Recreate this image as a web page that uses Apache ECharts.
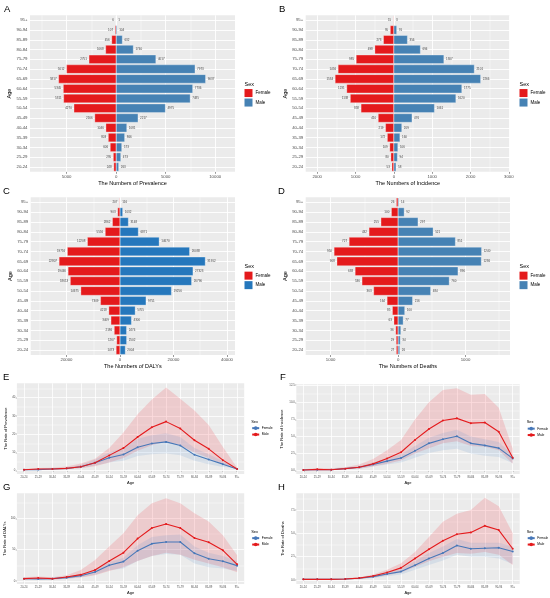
<!DOCTYPE html>
<html lang="en">
<head>
<meta charset="UTF-8">
<script src="https://cdn.jsdelivr.net/npm/echarts@6/dist/echarts.min.js"></script>
<title>Numbers and rates by age and sex</title>
<style>html, body { margin: 0; background: #fff; }</style>
</head>
<body>
<div id="main" style="width:550px;height:598px;"></div>
<script type="text/javascript">
// age groups, youngest first (ECharts puts the first category at the bottom)
var ages = ['20-24', '25-29', '30-34', '35-39', '40-44', '45-49', '50-54', '55-59',
            '60-64', '65-69', '70-74', '75-79', '80-84', '85-89', '90-94', '95+'];

// A - numbers of prevalence
var prevFemale = [248, 295, 606, 803, 1046, 2166, 4270, 5311, 5345, 5817, 5012, 2751, 1068, 456, 107, 6];
var prevMale   = [263, 473, 573, 866, 1081, 2217, 4975, 7485, 7736, 9037, 7973, 4017, 1740, 632, 104, 1];
// B - numbers of incidence
var incFemale = [53, 80, 109, 172, 219, 410, 858, 1138, 1231, 1534, 1456, 985, 498, 273, 95, 15];
var incMale   = [58, 94, 106, 160, 209, 476, 1061, 1620, 1775, 2266, 2101, 1307, 694, 356, 76, 3];
// C - numbers of DALYs
var dalyFemale = [1473, 1267, 2186, 3409, 4218, 7309, 14675, 18613, 19446, 22807, 19716, 12208, 5556, 2862, 903, 207];
var dalyMale   = [2004, 2502, 2474, 4300, 5705, 9751, 19256, 26796, 27323, 31912, 26038, 14670, 6871, 3148, 1032, 116];
// D - numbers of deaths
var deathFemale = [27, 29, 36, 63, 85, 164, 363, 536, 638, 908, 950, 727, 432, 255, 100, 26];
var deathMale   = [26, 34, 42, 77, 100, 216, 484, 760, 890, 1236, 1240, 851, 521, 297, 92, 14];

// E - rate of prevalence (mean, lower, upper)
var prevRateF  = [0.5, 0.6, 0.9, 1.2, 2.2, 4.4, 7.1, 8.9, 12.9, 14.9, 15.8, 13.8, 8.7, 6.2, 3.6, 0.9];
var prevRateFL = [0.3, 0.4, 0.6, 0.8, 1.5, 2.8, 4.5, 5.5, 8, 9, 9.5, 8.5, 5.5, 3.6, 2.1, 0.6];
var prevRateFU = [0.7, 0.9, 1.2, 1.7, 3.2, 6.2, 10, 12.5, 17.5, 19.5, 20.5, 18.5, 12.5, 9, 5.2, 1.3];
var prevRateM  = [0.5, 0.9, 0.9, 1.3, 2.2, 4.4, 8.4, 12.4, 18.5, 23.8, 26.9, 23.1, 16.7, 12.0, 5.8, 0.9];
var prevRateML = [0.3, 0.5, 0.5, 0.8, 1.3, 2.5, 4.5, 7, 11, 14, 16, 14, 10, 7, 3.5, 0.5];
var prevRateMU = [1.0, 1.5, 1.6, 2.3, 4.0, 6.5, 12.5, 21, 31, 39, 45.6, 39.5, 33, 25, 13, 1.6];
// F - rate of incidence
var incRateF  = [0.1, 0.15, 0.15, 0.3, 0.5, 0.9, 1.4, 1.85, 2.9, 4.0, 4.6, 5.05, 4.0, 3.7, 3.3, 1.8];
var incRateFL = [0.05, 0.1, 0.1, 0.2, 0.3, 0.6, 0.9, 1.2, 1.9, 2.6, 3.0, 3.2, 2.5, 2.2, 2.0, 1.1];
var incRateFU = [0.15, 0.25, 0.25, 0.4, 0.7, 1.2, 1.8, 2.4, 3.6, 4.8, 5.5, 6.0, 5.0, 4.6, 4.2, 2.3];
var incRateM  = [0.1, 0.2, 0.15, 0.3, 0.5, 1.0, 1.8, 2.7, 4.5, 6.1, 7.35, 7.65, 6.95, 7.05, 5.7, 1.9];
var incRateML = [0.05, 0.1, 0.1, 0.2, 0.3, 0.6, 1.0, 1.5, 2.5, 3.3, 4.0, 4.3, 3.6, 3.5, 3.0, 1.0];
var incRateMU = [0.2, 0.35, 0.35, 0.5, 0.9, 1.7, 3.0, 4.5, 7.5, 10, 11.8, 12.05, 11.1, 11.2, 9.2, 3.2];
// G - rate of DALYs
var dalyRateF  = [3.7, 3.2, 3.7, 5.3, 8.5, 14.4, 25, 30.9, 48.4, 59.6, 62.2, 62.2, 44.1, 35.6, 31.4, 24.5];
var dalyRateFL = [2.5, 2, 2.5, 3.5, 6, 10, 17, 20, 32, 40, 43, 42, 28, 22, 20, 16];
var dalyRateFU = [5, 4.5, 5, 7, 11, 18, 30, 37, 57, 70, 73, 74, 55, 45, 40, 32];
var dalyRateM  = [3.7, 4.8, 3.7, 6.4, 10.1, 17.6, 31.9, 45.2, 67.6, 84.6, 91.0, 84.6, 68.6, 61.7, 48.9, 26.6];
var dalyRateML = [2, 2.5, 2, 3.5, 5.5, 9, 16, 22, 32, 40, 45, 42, 34, 28, 22, 14];
var dalyRateMU = [6, 7, 6, 9, 17.6, 33.5, 55, 76, 105, 124, 132, 124, 108, 95, 73, 41];
// H - rate of deaths
var deathRateF  = [0.07, 0.07, 0.07, 0.1, 0.18, 0.36, 0.65, 0.9, 1.57, 2.3, 2.9, 3.7, 3.35, 3.4, 3.45, 3.05];
var deathRateFL = [0.04, 0.04, 0.04, 0.06, 0.1, 0.22, 0.4, 0.6, 1.1, 1.6, 2.1, 2.7, 2.5, 2.5, 2.3, 1.7];
var deathRateFU = [0.1, 0.1, 0.1, 0.14, 0.25, 0.5, 0.85, 1.2, 2.0, 2.9, 3.6, 4.4, 4.0, 4.0, 4.0, 3.6];
var deathRateM  = [0.07, 0.07, 0.07, 0.1, 0.2, 0.43, 0.8, 1.3, 2.3, 3.3, 4.2, 4.9, 5.1, 5.8, 5.35, 3.35];
var deathRateML = [0.04, 0.04, 0.04, 0.06, 0.12, 0.25, 0.5, 0.8, 1.4, 2.0, 2.5, 2.9, 2.8, 3.0, 2.7, 1.6];
var deathRateMU = [0.12, 0.12, 0.12, 0.18, 0.3, 0.6, 1.1, 1.8, 3.0, 4.6, 6.25, 7.1, 7.5, 8.8, 7.9, 5.0];

var RED = '#E41A1C';
var GREY = '#4D4D4D';

var opt = {
    animation: false,
    backgroundColor: '#fff',
    textStyle: { fontFamily: 'Liberation Sans, Arial, sans-serif' },
    title: [], grid: [], xAxis: [], yAxis: [], legend: [], series: []
};

function text(str, left, top, size) {
    opt.title.push({
        text: str, left: left, top: top, padding: 0,
        textStyle: { fontSize: size, fontWeight: 'normal', color: '#000' }
    });
}

// white panel grid lines, drawn under the marks
function marks(list, key, width) {
    return list.map(function (v) {
        var d = { lineStyle: { width: width } };
        d[key] = v;
        return d;
    });
}
function gridLines(data) {
    return {
        silent: true, symbol: ['none', 'none'], label: { show: false }, z: 1,
        animation: false, emphasis: { disabled: true },
        lineStyle: { color: '#fff', type: 'solid', width: 0.9 },
        data: data
    };
}

function pyramid(id, box, range, major, minor, female, male, maleColor, xName) {
    var gi = opt.grid.length;
    opt.grid.push({ left: box[0], top: box[1], width: box[2], height: box[3],
        show: true, backgroundColor: '#EBEBEB', borderWidth: 0 });
    opt.xAxis.push({
        gridIndex: gi, type: 'value', min: range[0], max: range[1],
        name: xName, nameLocation: 'middle', nameGap: 8.2,
        nameTextStyle: { fontSize: 5.5, color: '#000' },
        axisLine: { show: false }, splitLine: { show: false },
        axisTick: { show: true, length: 2, customValues: major, lineStyle: { color: '#333', width: 0.5 } },
        axisLabel: { customValues: major, fontSize: 4.3, color: GREY, margin: 2.8,
            formatter: function (v) { return Math.abs(v); } }
    });
    opt.yAxis.push({
        gridIndex: gi, type: 'category', data: ages,
        name: 'Age', nameLocation: 'middle', nameGap: 17, nameRotate: 90,
        nameTextStyle: { fontSize: 5.5, color: '#000' },
        axisLine: { show: false }, splitLine: { show: false },
        axisTick: { show: true, length: 2, alignWithLabel: true, lineStyle: { color: '#333', width: 0.5 } },
        axisLabel: { fontSize: 4.3, color: GREY, margin: 2.5 }
    });
    var lines = marks(major, 'xAxis', 0.9).concat(marks(minor, 'xAxis', 0.45), marks(ages, 'yAxis', 0.9));
    opt.series.push({
        name: 'Female ' + id, type: 'bar', xAxisIndex: gi, yAxisIndex: gi, stack: 'p' + id,
        barWidth: '90%', data: female.map(function (v) { return -v; }),
        itemStyle: { color: RED, borderColor: '#fff', borderWidth: 0.3 },
        label: { show: true, position: 'left', distance: 2, fontSize: 3, color: '#444',
            formatter: function (p) { return Math.abs(p.value); } },
        markLine: gridLines(lines)
    }, {
        name: 'Male ' + id, type: 'bar', xAxisIndex: gi, yAxisIndex: gi, stack: 'p' + id,
        barWidth: '90%', data: male,
        itemStyle: { color: maleColor, borderColor: '#fff', borderWidth: 0.3 },
        label: { show: true, position: 'right', distance: 2, fontSize: 3, color: '#444' }
    });
    var lx = box[0] + box[2] + 9.5;
    var cy = box[1] + box[3] / 2;
    text('Sex', lx, cy - 12.5, 5.5);
    opt.legend.push({
        left: lx, top: cy - 4.5, orient: 'vertical', padding: 0,
        itemWidth: 8, itemHeight: 8, itemGap: 1.5, icon: 'rect', selectedMode: false,
        itemStyle: { borderWidth: 0 },
        data: ['Female ' + id, 'Male ' + id],
        formatter: function (n) { return n.split(' ')[0]; },
        textStyle: { fontSize: 4.5, color: '#000', padding: [0, 0, 0, -2] }
    });
}

function band(gi, key, low, up, fill) {
    opt.series.push({
        type: 'line', xAxisIndex: gi, yAxisIndex: gi, stack: key, data: low,
        symbol: 'none', lineStyle: { opacity: 0 }, silent: true
    }, {
        type: 'line', xAxisIndex: gi, yAxisIndex: gi, stack: key,
        data: up.map(function (v, i) { return +(v - low[i]).toFixed(4); }),
        symbol: 'none', lineStyle: { opacity: 0 }, silent: true,
        areaStyle: { color: fill, opacity: 1 }
    });
}

function rates(id, box, range, major, minor, fmt, yName, yGap, f, fl, fu, m, ml, mu) {
    var gi = opt.grid.length;
    opt.grid.push({ left: box[0], top: box[1], width: box[2], height: box[3],
        show: true, backgroundColor: '#EBEBEB', borderWidth: 0 });
    opt.xAxis.push({
        gridIndex: gi, type: 'category', data: ages, boundaryGap: true,
        name: 'Age', nameLocation: 'middle', nameGap: 6.5,
        nameTextStyle: { fontSize: 4, color: '#000' },
        axisLine: { show: false }, splitLine: { show: false },
        axisTick: { show: true, length: 1.2, alignWithLabel: true, lineStyle: { color: '#333', width: 0.4 } },
        axisLabel: { interval: 0, fontSize: 2.7, color: GREY, margin: 1.6 }
    });
    opt.yAxis.push({
        gridIndex: gi, type: 'value', min: range[0], max: range[1],
        name: yName, nameLocation: 'middle', nameGap: yGap, nameRotate: 90,
        nameTextStyle: { fontSize: 4, color: '#000' },
        axisLine: { show: false }, splitLine: { show: false },
        axisTick: { show: true, length: 1.2, customValues: major, lineStyle: { color: '#333', width: 0.4 } },
        axisLabel: { customValues: major, fontSize: 2.8, color: GREY, margin: 1.5, formatter: fmt }
    });
    var lines = marks(major, 'yAxis', 0.8).concat(marks(minor, 'yAxis', 0.4), marks(ages, 'xAxis', 0.8));
    opt.series.push({
        type: 'line', xAxisIndex: gi, yAxisIndex: gi, data: [], silent: true,
        markLine: gridLines(lines)
    });
    band(gi, 'm' + id, ml, mu, 'rgba(240,40,50,0.16)');
    band(gi, 'f' + id, fl, fu, 'rgba(70,130,200,0.13)');
    opt.series.push({
        name: 'Female ' + id, type: 'line', xAxisIndex: gi, yAxisIndex: gi, data: f, z: 4,
        symbol: 'circle', symbolSize: 2, color: '#4677B8', lineStyle: { width: 1.1 }
    }, {
        name: 'Male ' + id, type: 'line', xAxisIndex: gi, yAxisIndex: gi, data: m, z: 4,
        symbol: 'circle', symbolSize: 2, color: RED, lineStyle: { width: 1.1 }
    });
    var lx = box[0] + box[2] + 7;
    var cy = box[1] + box[3] / 2;
    text('Sex', lx, cy - 9, 4);
    opt.legend.push({
        left: lx, top: cy - 2.3, orient: 'vertical', padding: 0,
        itemWidth: 7, itemHeight: 4.5, itemGap: 2.8, selectedMode: false,
        data: ['Female ' + id, 'Male ' + id],
        formatter: function (n) { return n.split(' ')[0]; },
        textStyle: { fontSize: 3.3, color: '#000', padding: [0, 0, 0, -2.5] }
    });
}

function int(v) { return String(v); }
function one(v) { return v.toFixed(1); }

pyramid('A', [30, 15.3, 205, 156.5], [-8700, 12000], [-5000, 0, 5000, 10000], [-7500, -2500, 2500, 7500],
    prevFemale, prevMale, '#4682B4', 'The Numbers of Prevalence');
pyramid('B', [305.7, 15.3, 204.3, 156.5], [-2300, 3030], [-2000, -1000, 0, 1000, 2000, 3000],
    [-1500, -500, 500, 1500, 2500], incFemale, incMale, '#4682B4', 'The Numbers of Incidence');
pyramid('C', [30.7, 197.3, 204.3, 157.7], [-33400, 43000], [-20000, 0, 20000, 40000],
    [-30000, -10000, 10000, 30000], dalyFemale, dalyMale, '#2577BC', 'The Numbers of DALYs');
pyramid('D', [305.7, 197.3, 204.3, 157.7], [-1370, 1660], [-1000, 0, 1000], [-500, 500, 1500],
    deathFemale, deathMale, '#4682B4', 'The Numbers of Deaths');

rates('E', [16.9, 383.3, 227.3, 90.7], [-1.8, 47.9], [0, 10, 20, 30, 40], [5, 15, 25, 35, 45], int,
    'The Rate of Prevalence', 9.5, prevRateF, prevRateFL, prevRateFU, prevRateM, prevRateML, prevRateMU);
rates('F', [296.3, 384.3, 223.4, 89.7], [-0.48, 12.63], [0, 2.5, 5, 7.5, 10, 12.5],
    [1.25, 3.75, 6.25, 8.75, 11.25], one, 'The Rate of Incidence', 12,
    incRateF, incRateFL, incRateFU, incRateM, incRateML, incRateMU);
rates('G', [16.9, 493.3, 227.3, 90.7], [-4.8, 139.9], [0, 50, 100], [25, 75, 125], int,
    'The Rate of DALYs', 9, dalyRateF, dalyRateFL, dalyRateFU, dalyRateM, dalyRateML, dalyRateMU);
rates('H', [296.3, 493.3, 223.4, 90.7], [-0.43, 9.29], [0, 2.5, 5, 7.5], [1.25, 3.75, 6.25, 8.75], one,
    'The Rate of Deaths', 11.4, deathRateF, deathRateFL, deathRateFU, deathRateM, deathRateML, deathRateMU);

// panel letters
text('A', 4, 4.5, 9.5);
text('B', 279, 4, 9.5);
text('C', 3, 186, 9.5);
text('D', 278, 186, 9.5);
text('E', 3, 372, 9.5);
text('F', 280, 372, 9.5);
text('G', 3, 482, 9.5);
text('H', 278, 482, 9.5);

var chart = echarts.init(document.getElementById('main'));
chart.setOption(opt);
</script>
</body>
</html>
